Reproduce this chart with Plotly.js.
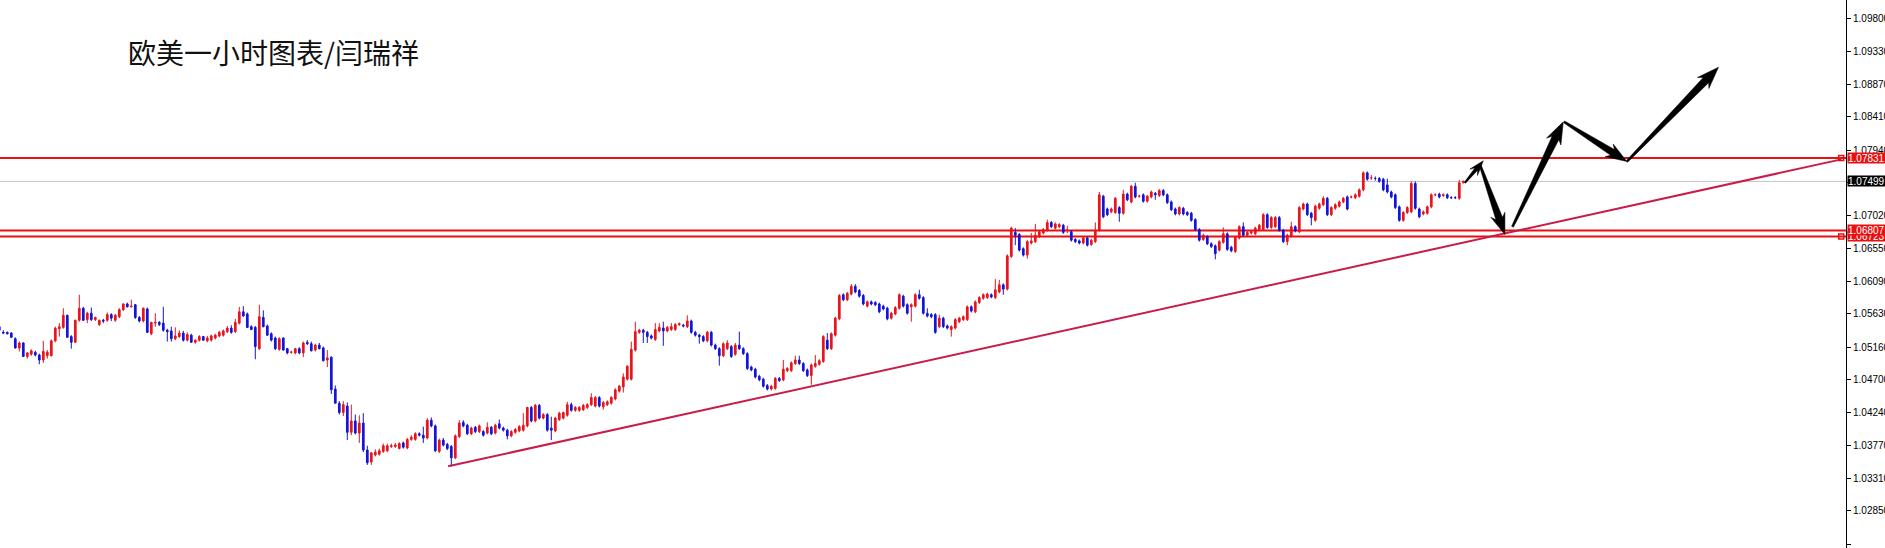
<!DOCTYPE html>
<html><head><meta charset="utf-8">
<script src="https://cdn.plot.ly/plotly-3.0.1.min.js"></script>
<style>html,body{margin:0;padding:0;background:#fff;overflow:hidden}#chart{width:1885px;height:548px}</style>
</head><body><div id="chart"></div>
<script>
// ---- data (EURUSD H1 candles) ----
const openP = [
1.0545,1.0537,1.0537,1.0536,1.0528,1.0515,1.0522,1.0503,1.0506,1.0509,
1.0505,1.0498,1.0504,1.0504,1.0525,1.0542,1.0544,1.0561,1.0531,1.0523,
1.0554,1.0571,1.0555,1.0564,1.0555,1.0548,1.0554,1.0554,1.0562,1.0554,
1.0559,1.0569,1.0577,1.0573,1.0576,1.0558,1.0553,1.0570,1.0535,1.0550,
1.0551,1.0550,1.0540,1.0539,1.0528,1.0531,1.0536,1.0526,1.0533,1.0523,
1.0526,1.0531,1.0525,1.0526,1.0529,1.0532,1.0533,1.0538,1.0543,1.0538,
1.0550,1.0566,1.0563,1.0545,1.0544,1.0514,1.0558,1.0546,1.0535,1.0529,
1.0513,1.0529,1.0514,1.0509,1.0508,1.0514,1.0508,1.0523,1.0521,1.0512,
1.0519,1.0515,1.0498,1.0502,1.0457,1.0437,1.0424,1.0433,1.0396,1.0412,
1.0395,1.0409,1.0371,1.0354,1.0364,1.0365,1.0369,1.0370,1.0376,1.0376,
1.0373,1.0381,1.0374,1.0386,1.0386,1.0394,1.0392,1.0388,1.0413,1.0405,
1.0369,1.0385,1.0379,1.0376,1.0360,1.0390,1.0410,1.0406,1.0394,1.0403,
1.0397,1.0397,1.0395,1.0403,1.0395,1.0408,1.0402,1.0399,1.0391,1.0396,
1.0398,1.0399,1.0405,1.0431,1.0412,1.0434,1.0416,1.0421,1.0402,1.0398,
1.0414,1.0416,1.0420,1.0435,1.0427,1.0427,1.0428,1.0431,1.0435,1.0433,
1.0445,1.0432,1.0435,1.0437,1.0443,1.0454,1.0460,1.0471,1.0471,1.0512,
1.0537,1.0540,1.0537,1.0532,1.0527,1.0539,1.0543,1.0539,1.0541,1.0541,
1.0548,1.0547,1.0545,1.0553,1.0537,1.0533,1.0531,1.0525,1.0537,1.0519,
1.0514,1.0504,1.0514,1.0517,1.0506,1.0519,1.0514,1.0507,1.0488,1.0485,
1.0475,1.0471,1.0462,1.0457,1.0458,1.0472,1.0470,1.0483,1.0483,1.0493,
1.0498,1.0493,1.0484,1.0476,1.0489,1.0492,1.0496,1.0526,1.0514,1.0533,
1.0556,1.0590,1.0583,1.0591,1.0602,1.0596,1.0589,1.0574,1.0580,1.0579,
1.0577,1.0574,1.0571,1.0557,1.0563,1.0571,1.0588,1.0576,1.0573,1.0574,
1.0590,1.0586,1.0564,1.0562,1.0562,1.0545,1.0557,1.0546,1.0541,1.0543,
1.0552,1.0555,1.0555,1.0573,1.0566,1.0579,1.0585,1.0586,1.0590,1.0586,
1.0594,1.0604,1.0598,1.0644,1.0678,1.0675,1.0655,1.0646,1.0663,1.0665,
1.0672,1.0677,1.0681,1.0692,1.0684,1.0686,1.0688,1.0681,1.0679,1.0668,
1.0666,1.0663,1.0670,1.0661,1.0665,1.0681,1.0729,1.0711,1.0707,1.0706,
1.0713,1.0705,1.0732,1.0721,1.0743,1.0729,1.0731,1.0722,1.0728,1.0733,
1.0730,1.0737,1.0731,1.0721,1.0711,1.0704,1.0712,1.0706,1.0705,1.0696,
1.0682,1.0668,1.0672,1.0662,1.0659,1.0653,1.0664,1.0676,1.0657,1.0651,
1.0670,1.0686,1.0674,1.0677,1.0676,1.0682,1.0682,1.0703,1.0685,1.0686,
1.0699,1.0681,1.0665,1.0673,1.0686,1.0679,1.0711,1.0718,1.0705,1.0695,
1.0712,1.0717,1.0726,1.0703,1.0712,1.0715,1.0721,1.0728,1.0728,1.0727,
1.0729,1.0738,1.0762,1.0755,1.0754,1.0754,1.0753,1.0745,1.0735,1.0731,
1.0714,1.0695,1.0706,1.0707,1.0747,1.0711,1.0704,1.0705,1.0714,1.0731,
1.0732,1.0730,1.0731,1.0727,1.0727,1.0726,1.0748];
const highP = [
1.0546,1.0540,1.0538,1.0537,1.0530,1.0524,1.0523,1.0509,1.0513,1.0511,
1.0507,1.0525,1.0512,1.0527,1.0545,1.0550,1.0571,1.0562,1.0533,1.0555,
1.0590,1.0573,1.0566,1.0572,1.0559,1.0555,1.0556,1.0565,1.0564,1.0563,
1.0571,1.0578,1.0579,1.0583,1.0577,1.0560,1.0572,1.0572,1.0552,1.0564,
1.0553,1.0573,1.0542,1.0545,1.0544,1.0540,1.0539,1.0537,1.0535,1.0527,
1.0533,1.0532,1.0532,1.0534,1.0535,1.0539,1.0541,1.0546,1.0547,1.0556,
1.0573,1.0574,1.0565,1.0547,1.0546,1.0576,1.0568,1.0548,1.0537,1.0531,
1.0530,1.0530,1.0515,1.0511,1.0515,1.0516,1.0524,1.0526,1.0524,1.0521,
1.0522,1.0517,1.0512,1.0503,1.0462,1.0440,1.0440,1.0438,1.0435,1.0421,
1.0420,1.0423,1.0377,1.0368,1.0372,1.0373,1.0380,1.0380,1.0380,1.0381,
1.0382,1.0383,1.0388,1.0392,1.0396,1.0396,1.0404,1.0416,1.0417,1.0407,
1.0387,1.0388,1.0381,1.0378,1.0393,1.0413,1.0413,1.0408,1.0404,1.0405,
1.0407,1.0399,1.0410,1.0405,1.0408,1.0414,1.0404,1.0401,1.0399,1.0402,
1.0406,1.0423,1.0432,1.0433,1.0436,1.0436,1.0423,1.0423,1.0418,1.0418,
1.0425,1.0425,1.0439,1.0438,1.0433,1.0433,1.0436,1.0437,1.0451,1.0447,
1.0447,1.0440,1.0441,1.0447,1.0458,1.0463,1.0479,1.0491,1.0524,1.0552,
1.0542,1.0542,1.0539,1.0534,1.0550,1.0550,1.0552,1.0546,1.0550,1.0550,
1.0551,1.0549,1.0561,1.0555,1.0539,1.0535,1.0533,1.0539,1.0539,1.0521,
1.0516,1.0523,1.0526,1.0519,1.0522,1.0538,1.0516,1.0509,1.0490,1.0487,
1.0477,1.0473,1.0464,1.0463,1.0474,1.0474,1.0498,1.0488,1.0496,1.0504,
1.0504,1.0495,1.0486,1.0493,1.0505,1.0499,1.0533,1.0536,1.0537,1.0559,
1.0591,1.0592,1.0594,1.0605,1.0605,1.0598,1.0591,1.0582,1.0582,1.0581,
1.0579,1.0576,1.0573,1.0566,1.0574,1.0592,1.0590,1.0578,1.0578,1.0592,
1.0597,1.0588,1.0571,1.0564,1.0564,1.0562,1.0559,1.0548,1.0547,1.0557,
1.0559,1.0561,1.0575,1.0575,1.0582,1.0588,1.0592,1.0593,1.0592,1.0612,
1.0611,1.0606,1.0647,1.0686,1.0684,1.0677,1.0657,1.0667,1.0677,1.0690,
1.0681,1.0684,1.0696,1.0694,1.0692,1.0691,1.0690,1.0687,1.0681,1.0670,
1.0668,1.0672,1.0672,1.0669,1.0692,1.0735,1.0731,1.0713,1.0713,1.0728,
1.0715,1.0738,1.0734,1.0745,1.0748,1.0731,1.0733,1.0731,1.0737,1.0735,
1.0739,1.0739,1.0733,1.0723,1.0713,1.0715,1.0714,1.0708,1.0707,1.0698,
1.0684,1.0676,1.0674,1.0664,1.0661,1.0667,1.0685,1.0678,1.0659,1.0673,
1.0688,1.0692,1.0680,1.0681,1.0686,1.0690,1.0705,1.0705,1.0701,1.0701,
1.0701,1.0683,1.0676,1.0693,1.0688,1.0715,1.0720,1.0720,1.0707,1.0717,
1.0720,1.0729,1.0728,1.0715,1.0719,1.0723,1.0728,1.0730,1.0730,1.0733,
1.0740,1.0764,1.0764,1.0759,1.0757,1.0756,1.0755,1.0754,1.0737,1.0733,
1.0716,1.0708,1.0715,1.0750,1.0750,1.0713,1.0709,1.0716,1.0733,1.0733,
1.0734,1.0733,1.0733,1.0729,1.0729,1.0752,1.0751];
const lowP = [
1.0540,1.0535,1.0534,1.0529,1.0514,1.0510,1.0503,1.0500,1.0504,1.0503,
1.0492,1.0494,1.0500,1.0503,1.0523,1.0531,1.0542,1.0530,1.0514,1.0522,
1.0552,1.0553,1.0550,1.0553,1.0553,1.0546,1.0550,1.0552,1.0553,1.0552,
1.0557,1.0567,1.0572,1.0572,1.0556,1.0551,1.0551,1.0536,1.0533,1.0545,
1.0546,1.0538,1.0524,1.0524,1.0526,1.0529,1.0524,1.0524,1.0522,1.0521,
1.0524,1.0525,1.0523,1.0524,1.0527,1.0530,1.0531,1.0536,1.0535,1.0536,
1.0548,1.0559,1.0543,1.0540,1.0499,1.0512,1.0544,1.0532,1.0524,1.0512,
1.0511,1.0511,1.0506,1.0507,1.0506,1.0506,1.0502,1.0519,1.0510,1.0510,
1.0513,1.0496,1.0488,1.0450,1.0437,1.0421,1.0419,1.0385,1.0392,1.0393,
1.0381,1.0368,1.0350,1.0350,1.0362,1.0363,1.0367,1.0368,1.0374,1.0374,
1.0372,1.0373,1.0372,1.0384,1.0384,1.0390,1.0381,1.0386,1.0403,1.0368,
1.0367,1.0376,1.0371,1.0348,1.0358,1.0388,1.0403,1.0392,1.0392,1.0395,
1.0395,1.0390,1.0393,1.0392,1.0393,1.0400,1.0397,1.0386,1.0389,1.0394,
1.0396,1.0397,1.0403,1.0410,1.0410,1.0414,1.0414,1.0397,1.0385,1.0396,
1.0412,1.0414,1.0418,1.0425,1.0425,1.0425,1.0426,1.0429,1.0433,1.0431,
1.0431,1.0428,1.0433,1.0435,1.0441,1.0452,1.0452,1.0469,1.0469,1.0510,
1.0535,1.0522,1.0522,1.0527,1.0525,1.0537,1.0518,1.0537,1.0539,1.0539,
1.0546,1.0544,1.0543,1.0535,1.0531,1.0521,1.0523,1.0523,1.0517,1.0512,
1.0490,1.0502,1.0512,1.0501,1.0504,1.0512,1.0505,1.0484,1.0482,1.0472,
1.0468,1.0459,1.0455,1.0455,1.0456,1.0467,1.0468,1.0481,1.0481,1.0491,
1.0491,1.0481,1.0474,1.0463,1.0487,1.0490,1.0494,1.0512,1.0512,1.0531,
1.0554,1.0581,1.0581,1.0589,1.0592,1.0586,1.0575,1.0572,1.0575,1.0574,
1.0564,1.0568,1.0554,1.0555,1.0561,1.0569,1.0572,1.0562,1.0552,1.0572,
1.0583,1.0562,1.0558,1.0557,1.0535,1.0543,1.0543,1.0541,1.0531,1.0541,
1.0550,1.0553,1.0553,1.0565,1.0564,1.0577,1.0583,1.0584,1.0585,1.0584,
1.0592,1.0590,1.0596,1.0642,1.0660,1.0651,1.0644,1.0641,1.0661,1.0663,
1.0670,1.0675,1.0679,1.0684,1.0682,1.0684,1.0676,1.0677,1.0665,1.0663,
1.0661,1.0661,1.0658,1.0659,1.0663,1.0679,1.0698,1.0701,1.0705,1.0704,
1.0693,1.0703,1.0722,1.0719,1.0726,1.0727,1.0720,1.0720,1.0726,1.0724,
1.0728,1.0729,1.0718,1.0708,1.0702,1.0702,1.0702,1.0701,1.0693,1.0680,
1.0665,1.0666,1.0660,1.0656,1.0640,1.0651,1.0662,1.0652,1.0650,1.0649,
1.0668,1.0672,1.0672,1.0675,1.0674,1.0680,1.0680,1.0683,1.0683,1.0684,
1.0679,1.0663,1.0660,1.0671,1.0678,1.0677,1.0709,1.0701,1.0688,1.0693,
1.0710,1.0715,1.0701,1.0701,1.0710,1.0713,1.0719,1.0709,1.0726,1.0725,
1.0727,1.0736,1.0751,1.0752,1.0751,1.0748,1.0736,1.0733,1.0726,1.0711,
1.0693,1.0693,1.0704,1.0705,1.0710,1.0698,1.0702,1.0703,1.0712,1.0729,
1.0726,1.0728,1.0725,1.0725,1.0725,1.0724,1.0747];
const closeP = [
1.0540,1.0536,1.0535,1.0530,1.0515,1.0522,1.0503,1.0508,1.0511,1.0505,
1.0498,1.0510,1.0509,1.0525,1.0543,1.0545,1.0561,1.0530,1.0523,1.0554,
1.0571,1.0554,1.0564,1.0555,1.0558,1.0554,1.0553,1.0562,1.0557,1.0561,
1.0569,1.0577,1.0573,1.0574,1.0558,1.0553,1.0571,1.0537,1.0551,1.0551,
1.0548,1.0540,1.0538,1.0528,1.0532,1.0536,1.0526,1.0534,1.0523,1.0526,
1.0531,1.0526,1.0529,1.0532,1.0533,1.0537,1.0539,1.0543,1.0537,1.0551,
1.0566,1.0560,1.0544,1.0541,1.0517,1.0559,1.0545,1.0533,1.0526,1.0514,
1.0528,1.0512,1.0508,1.0509,1.0514,1.0508,1.0522,1.0521,1.0511,1.0519,
1.0514,1.0497,1.0501,1.0456,1.0437,1.0424,1.0435,1.0396,1.0412,1.0395,
1.0409,1.0371,1.0353,1.0367,1.0368,1.0370,1.0377,1.0377,1.0377,1.0378,
1.0380,1.0375,1.0386,1.0389,1.0394,1.0392,1.0388,1.0413,1.0405,1.0370,
1.0385,1.0378,1.0373,1.0360,1.0391,1.0409,1.0405,1.0394,1.0402,1.0397,
1.0405,1.0392,1.0403,1.0394,1.0406,1.0402,1.0399,1.0391,1.0397,1.0400,
1.0404,1.0406,1.0431,1.0412,1.0434,1.0416,1.0421,1.0399,1.0399,1.0416,
1.0423,1.0424,1.0435,1.0427,1.0431,1.0431,1.0434,1.0435,1.0445,1.0445,
1.0433,1.0438,1.0439,1.0445,1.0456,1.0461,1.0474,1.0489,1.0513,1.0538,
1.0540,1.0537,1.0531,1.0529,1.0541,1.0544,1.0539,1.0544,1.0545,1.0548,
1.0549,1.0546,1.0553,1.0537,1.0533,1.0531,1.0525,1.0537,1.0519,1.0514,
1.0504,1.0521,1.0522,1.0503,1.0519,1.0514,1.0507,1.0486,1.0484,1.0474,
1.0470,1.0461,1.0457,1.0461,1.0472,1.0469,1.0485,1.0486,1.0494,1.0498,
1.0493,1.0483,1.0476,1.0491,1.0493,1.0497,1.0531,1.0514,1.0535,1.0557,
1.0589,1.0583,1.0592,1.0602,1.0594,1.0588,1.0577,1.0580,1.0577,1.0576,
1.0566,1.0570,1.0556,1.0564,1.0572,1.0590,1.0574,1.0564,1.0576,1.0590,
1.0585,1.0564,1.0560,1.0559,1.0537,1.0557,1.0545,1.0543,1.0545,1.0555,
1.0557,1.0559,1.0573,1.0567,1.0580,1.0586,1.0590,1.0591,1.0587,1.0597,
1.0604,1.0598,1.0645,1.0684,1.0674,1.0653,1.0646,1.0665,1.0666,1.0674,
1.0679,1.0682,1.0692,1.0686,1.0690,1.0689,1.0678,1.0681,1.0667,1.0665,
1.0663,1.0670,1.0660,1.0667,1.0681,1.0731,1.0700,1.0703,1.0711,1.0726,
1.0705,1.0732,1.0724,1.0743,1.0728,1.0729,1.0722,1.0729,1.0735,1.0731,
1.0737,1.0731,1.0720,1.0710,1.0704,1.0713,1.0704,1.0703,1.0695,1.0682,
1.0667,1.0674,1.0662,1.0658,1.0648,1.0665,1.0676,1.0654,1.0652,1.0671,
1.0686,1.0674,1.0678,1.0679,1.0684,1.0688,1.0703,1.0685,1.0699,1.0699,
1.0681,1.0665,1.0674,1.0686,1.0680,1.0713,1.0718,1.0703,1.0699,1.0715,
1.0718,1.0726,1.0703,1.0713,1.0717,1.0721,1.0726,1.0711,1.0728,1.0731,
1.0738,1.0762,1.0753,1.0755,1.0754,1.0750,1.0738,1.0735,1.0728,1.0713,
1.0695,1.0706,1.0713,1.0747,1.0712,1.0700,1.0707,1.0714,1.0731,1.0731,
1.0728,1.0731,1.0727,1.0727,1.0727,1.0748,1.0750];

const levelPrices = [1.07831, 1.06723, 1.06807];
const bidPrice = 1.07499;
const tickVals = [1.0238,1.0285,1.0331,1.0377,1.0424,1.0470,1.0516,1.0563,1.0609,1.0655,1.0702,1.0748,1.0794,1.0841,1.0887,1.0933,1.0980];
const tickText = tickVals.map(v => v.toFixed(5));
const trendIdx = [112.2, 460.5];
const trendPrice = [1.0348, 1.0781];
// hand-drawn forecast arrows: [tail index, tail price] -> [tip index, tip price]
const arrowTails = [[366.4,1.0748],[370.2,1.0773],[378.3,1.0686],[391.2,1.0834],[406.9,1.0778]];
const arrowTips  = [[371.0,1.0779],[376.4,1.0675],[391.0,1.0834],[406.9,1.0778],[429.8,1.0911]];
const titleText = '欧美一小时图表/闫瑞祥';

// ---- geometry ----
const W = 1885, H = 548, MR = 39;
const PW = W - MR, PH = H;
const X0 = 0.175, X1 = X0 + PW / 4;
const Y0 = 1.023278, Y1 = 1.100581;
const idx = openP.map((_, i) => i);

function toPx(k, p) { return [(k - X0) / (X1 - X0) * PW, (Y1 - p) / (Y1 - Y0) * PH]; }
function toData(x, y) { return [X0 + x / PW * (X1 - X0), Y1 - y / PH * (Y1 - Y0)]; }

// [tail width, shaft width at head, head width, head length] in px
const arrowSizes = [[1.5, 3.5, 10, 11], [2, 7, 15, 17], [2, 7.5, 16, 18], [2, 7, 15, 17], [2, 7.5, 16, 18]];
const shapes = [];
arrowTails.forEach((t, i) => {
  const a = toPx(t[0], t[1]), b = toPx(arrowTips[i][0], arrowTips[i][1]);
  const dx = b[0] - a[0], dy = b[1] - a[1], L = Math.hypot(dx, dy);
  const ux = dx / L, uy = dy / L, nx = -uy, ny = ux;
  const [w0, w1, hw, hl] = arrowSizes[i];
  const bx = b[0] - ux * hl, by = b[1] - uy * hl;
  const bbx = bx - ux * 4, bby = by - uy * 4;
  const pts = [
    [a[0] + nx * w0 / 2, a[1] + ny * w0 / 2],
    [bx + nx * w1 / 2, by + ny * w1 / 2],
    [bbx + nx * hw / 2, bby + ny * hw / 2],
    [b[0], b[1]],
    [bbx - nx * hw / 2, bby - ny * hw / 2],
    [bx - nx * w1 / 2, by - ny * w1 / 2],
    [a[0] - nx * w0 / 2, a[1] - ny * w0 / 2]
  ].map(q => toData(q[0], q[1]));
  const path = 'M' + pts.map(q => q[0].toFixed(4) + ',' + q[1].toFixed(6)).join(' L') + ' Z';
  shapes.push({type: 'path', xref: 'x', yref: 'y', path: path, fillcolor: '#000', line: {color: '#000', width: 0.5}, layer: 'above'});
});

// reference lines
shapes.unshift({type: 'line', xref: 'paper', x0: 0, x1: 1, yref: 'y', y0: bidPrice, y1: bidPrice, line: {color: '#c4c4c4', width: 1}, layer: 'below'});
levelPrices.forEach(p => shapes.unshift({type: 'line', xref: 'paper', x0: 0, x1: 1, yref: 'y', y0: p, y1: p, line: {color: '#e81010', width: 2}, layer: 'below'}));

const traces = [
  {type: 'scatter', mode: 'lines', x: trendIdx, y: trendPrice, line: {color: '#c81c4a', width: 2}, hoverinfo: 'skip'},
  {type: 'candlestick', x: idx, open: openP, high: highP, low: lowP, close: closeP,
   increasing: {line: {color: '#e8141c', width: 1}, fillcolor: '#e8141c'},
   decreasing: {line: {color: '#1414d8', width: 1}, fillcolor: '#1414d8'},
   whiskerwidth: 0, hoverinfo: 'skip'},
  {type: 'scatter', mode: 'markers', x: [X1 - 1.2, X1 - 1.2], y: [levelPrices[0], levelPrices[1]],
   marker: {symbol: 'square-open', size: 5, color: '#e81010', line: {width: 1.5, color: '#e81010'}}, hoverinfo: 'skip'}
];

const labelFont = {family: 'Liberation Sans, Arial, sans-serif', size: 10, color: '#fff'};
function priceLabel(p, bg) {
  return {xref: 'paper', yref: 'y', x: 1, y: p, xanchor: 'left', xshift: 1, showarrow: false,
          text: p.toFixed(5), bgcolor: bg, font: labelFont, borderpad: 0, height: 10, width: 40, align: 'left'};
}
const annotations = [
  {xref: 'paper', yref: 'paper', x: 126 / PW, y: 1 - 52 / PH, xanchor: 'left', yanchor: 'middle', showarrow: false,
   text: titleText, font: {family: 'Noto Sans CJK SC, sans-serif', size: 28, color: '#111'}},
  priceLabel(levelPrices[1], '#e81010'),
  priceLabel(levelPrices[2], '#e81010'),
  priceLabel(levelPrices[0], '#e81010'),
  priceLabel(bidPrice, '#000')
];

const layout = {
  width: W, height: H, margin: {l: 0, r: MR, t: 0, b: 0, pad: 0},
  paper_bgcolor: '#fff', plot_bgcolor: '#fff', showlegend: false, boxgap: 0.4,
  xaxis: {range: [X0, X1], visible: false, rangeslider: {visible: false}, fixedrange: true},
  yaxis: {range: [Y0, Y1], side: 'right', tickmode: 'array', tickvals: tickVals, ticktext: tickText,
          ticks: 'outside', ticklen: 4, tickcolor: '#000', tickwidth: 1, showline: true, linecolor: '#000', linewidth: 1,
          showgrid: false, zeroline: false, fixedrange: true,
          tickfont: {family: 'Liberation Sans, Arial, sans-serif', size: 10, color: '#000'}},
  shapes: shapes, annotations: annotations
};

Plotly.newPlot('chart', traces, layout, {staticPlot: true, displayModeBar: false});
</script>
</body></html>
